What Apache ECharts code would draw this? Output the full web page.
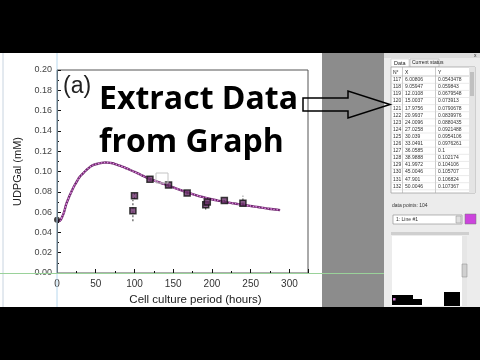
<!DOCTYPE html>
<html><head><meta charset="utf-8">
<script src="https://cdn.jsdelivr.net/npm/echarts@6/dist/echarts.min.js"></script>
<style>html,body{margin:0;padding:0;background:#000;}#c{width:480px;height:360px;}</style>
</head><body><div id="c"></div>
<script>
// ---- data ----
const curveX = [0,1.5,3,4.5,6,9,12,15,18,21,24,27,30,33,36,39,42,45,48,51,54,57,60,63,66,69,72,75,78,81,84,87,90,93,96,99,102,105,108,111,114,117,120,126,132,138,144,150,156,162,168,174,180,186,192,198,204,210,216,222,228,234,240,246,252,258,264,270,276,282,288];
const curveY = [0.0530,0.0517,0.0512,0.0522,0.0543,0.0598,0.0680,0.0739,0.0791,0.0840,0.0880,0.0921,0.0954,0.0976,0.1000,0.1022,0.1041,0.1057,0.1068,0.1074,0.1080,0.1084,0.1087,0.1088,0.1087,0.1085,0.1081,0.1073,0.1066,0.1058,0.1049,0.1040,0.1030,0.1020,0.1010,0.1000,0.0990,0.0979,0.0968,0.0957,0.0946,0.0935,0.0925,0.0909,0.0893,0.0877,0.0860,0.0843,0.0826,0.0810,0.0794,0.0779,0.0765,0.0752,0.0740,0.0729,0.0719,0.0710,0.0701,0.0693,0.0686,0.0679,0.0672,0.0665,0.0658,0.0651,0.0644,0.0637,0.0631,0.0625,0.0619];
const errX = [98,100,120,144,168,192,194,216,240];
const errY = [0.0613,0.0760,0.0924,0.0866,0.0787,0.0672,0.0700,0.0714,0.0688];
const errLow = [0.0510,0.0730,0.0910,0.0850,0.0775,0.0625,0.0685,0.0700,0.0675];
const errHigh = [0.0720,0.0795,0.0938,0.0885,0.0800,0.0715,0.0715,0.0728,0.0760];
const startPoint = [[0,0.0525]];
const xTicks = [0,50,100,150,200,250,300];
const yTicks = [0,0.02,0.04,0.06,0.08,0.10,0.12,0.14,0.16,0.18,0.20];
const rowN = [117,118,119,120,121,122,123,124,125,126,127,128,129,130,131,132];
const rowX = ['6.00806','9.05947','12.0108','15.0037','17.9756','20.9937','24.0096','27.0258','30.039','33.0491','36.0585','38.9888','41.9972','45.0046','47.901','50.0046'];
const rowY = ['0.0543478','0.059843','0.0679548','0.073913','0.0790678','0.0839976','0.0880435','0.0921488','0.0954106','0.0976261','0.1','0.102174','0.104106','0.105707','0.106824','0.107367'];

const chart = echarts.init(document.getElementById('c'), null, {renderer:'canvas'});

const g = [];
// screen regions
g.push({type:'rect', z:-100, shape:{x:0,y:53,width:322,height:254}, style:{fill:'#fff'}});
g.push({type:'rect', z:-100, shape:{x:322,y:53,width:62,height:254}, style:{fill:'#8c8c8c'}});
g.push({type:'rect', z:-100, shape:{x:384,y:53,width:96,height:254}, style:{fill:'#ececec'}});
g.push({type:'line', z:-99, shape:{x1:3,y1:53,x2:3,y2:307}, style:{stroke:'#c8d4e0',lineWidth:1}});
g.push({type:'line', z:50, shape:{x1:57,y1:53,x2:57,y2:307}, style:{stroke:'#b8d8ee',lineWidth:1}});
g.push({type:'line', z:50, shape:{x1:0,y1:273.5,x2:384,y2:273.5}, style:{stroke:'#9ad29a',lineWidth:1}});
g.push({type:'rect', z:40, shape:{x:156,y:173,width:12,height:10}, style:{fill:'none',stroke:'#c4c4c4',lineWidth:1}});
// overlay text
g.push({type:'text', z:100, style:{x:63,y:87,text:'(a)',font:'23px "Liberation Sans", Arial, sans-serif',fill:'#222',textVerticalAlign:'middle'}});
g.push({type:'text', z:100, style:{x:99,y:100,text:'Extract Data',font:'bold 32px "Open Sans", sans-serif',fill:'#000',textVerticalAlign:'middle'}});
g.push({type:'text', z:100, style:{x:99,y:143,text:'from Graph',font:'bold 32px "Open Sans", sans-serif',fill:'#000',textVerticalAlign:'middle'}});
// arrow
g.push({type:'polygon', z:100, shape:{points:[[303,98],[348,98],[348,91],[390,104.5],[348,118],[348,111],[303,111]]}, style:{fill:'none',stroke:'#000',lineWidth:1.5}});
// panel
g.push({type:'rect', z:-90, shape:{x:384,y:53,width:96,height:5}, style:{fill:'#dcdcdc'}});
g.push({type:'text', z:-80, style:{x:474,y:56,text:'x',font:'5px sans-serif',fill:'#333',textVerticalAlign:'middle'}});
g.push({type:'rect', z:-90, shape:{x:391,y:59,width:18,height:8}, style:{fill:'#fff',stroke:'#bbb',lineWidth:0.5}});
g.push({type:'text', z:-80, style:{x:394,y:63,text:'Data',font:'5.5px "Liberation Sans", sans-serif',fill:'#222',textVerticalAlign:'middle'}});
g.push({type:'rect', z:-90, shape:{x:410,y:59,width:29,height:8}, style:{fill:'#f4f4f4',stroke:'#999',lineWidth:0.5}});
g.push({type:'text', z:-80, style:{x:412,y:63,text:'Current status',font:'5px "Liberation Sans", sans-serif',fill:'#222',textVerticalAlign:'middle'}});
g.push({type:'rect', z:-90, shape:{x:391,y:67,width:84,height:126}, style:{fill:'#fff',stroke:'#999',lineWidth:0.7}});
g.push({type:'rect', z:-89, shape:{x:469,y:67,width:6,height:126}, style:{fill:'#e4e4e4'}});
g.push({type:'rect', z:-88, shape:{x:470,y:72,width:4,height:24}, style:{fill:'#c0c0c0'}});
g.push({type:'line', z:-88, shape:{x1:402.5,y1:67,x2:402.5,y2:193}, style:{stroke:'#aaa',lineWidth:0.6}});
g.push({type:'line', z:-88, shape:{x1:435.5,y1:67,x2:435.5,y2:193}, style:{stroke:'#aaa',lineWidth:0.6}});
g.push({type:'text', z:-80, style:{x:393,y:72.5,text:'N°',font:'5px "Liberation Sans", sans-serif',fill:'#222',textVerticalAlign:'middle'}});
g.push({type:'text', z:-80, style:{x:405,y:72.5,text:'X',font:'5px "Liberation Sans", sans-serif',fill:'#222',textVerticalAlign:'middle'}});
g.push({type:'text', z:-80, style:{x:438,y:72.5,text:'Y',font:'5px "Liberation Sans", sans-serif',fill:'#222',textVerticalAlign:'middle'}});
g.push({type:'line', z:-88, shape:{x1:391,y1:76,x2:469,y2:76}, style:{stroke:'#aaa',lineWidth:0.6}});
for (let i=0;i<rowN.length;i++){
  const yy = 79.8 + i*7.1;
  g.push({type:'line', z:-88, shape:{x1:391,y1:yy+3.5,x2:469,y2:yy+3.5}, style:{stroke:'#d4d4d4',lineWidth:0.5}});
  g.push({type:'text', z:-80, style:{x:393,y:yy,text:String(rowN[i]),font:'5px "Liberation Sans", sans-serif',fill:'#333',textVerticalAlign:'middle'}});
  g.push({type:'text', z:-80, style:{x:405,y:yy,text:rowX[i],font:'5px "Liberation Sans", sans-serif',fill:'#333',textVerticalAlign:'middle'}});
  g.push({type:'text', z:-80, style:{x:438,y:yy,text:rowY[i],font:'5px "Liberation Sans", sans-serif',fill:'#333',textVerticalAlign:'middle'}});
}
g.push({type:'text', z:-80, style:{x:392,y:206,text:'data points: 104',font:'5px "Liberation Sans", sans-serif',fill:'#333',textVerticalAlign:'middle'}});
g.push({type:'rect', z:-90, shape:{x:393,y:215,width:69,height:9}, style:{fill:'#fff',stroke:'#888',lineWidth:0.6}});
g.push({type:'text', z:-80, style:{x:396,y:219.5,text:'1: Line #1',font:'5px "Liberation Sans", sans-serif',fill:'#333',textVerticalAlign:'middle'}});
g.push({type:'rect', z:-89, shape:{x:456,y:216,width:5,height:7}, style:{fill:'#e0e0e0',stroke:'#888',lineWidth:0.5}});
g.push({type:'rect', z:-90, shape:{x:465,y:214,width:11,height:10}, style:{fill:'#cc44dd',stroke:'#777',lineWidth:0.5}});
g.push({type:'rect', z:-90, shape:{x:391,y:232,width:78,height:3}, style:{fill:'#cfcfcf'}});
g.push({type:'rect', z:-90, shape:{x:392,y:236,width:70,height:70}, style:{fill:'#fff'}});
g.push({type:'rect', z:-90, shape:{x:462,y:236,width:5,height:70}, style:{fill:'#e6e6e6'}});
g.push({type:'rect', z:-89, shape:{x:462,y:264,width:5,height:13}, style:{fill:'#d0d0d0',stroke:'#888',lineWidth:0.5}});
g.push({type:'rect', z:-88, shape:{x:392,y:295,width:21,height:10}, style:{fill:'#000'}});
g.push({type:'rect', z:-88, shape:{x:413,y:299,width:9,height:6}, style:{fill:'#000'}});
g.push({type:'rect', z:-88, shape:{x:444,y:292,width:16,height:14}, style:{fill:'#000'}});
g.push({type:'rect', z:-87, shape:{x:393,y:298,width:2.5,height:2.5}, style:{fill:'#d080d0'}});

const font = '"Liberation Sans", Arial, sans-serif';
chart.setOption({
  backgroundColor:'transparent',
  animation:false,
  grid:{left:57, top:70, right:172, bottom:87, show:true, borderColor:'#555', borderWidth:1, backgroundColor:'transparent'},
  xAxis:{type:'value', min:0, max:324, interval:50,
    name:'Cell culture period (hours)', nameLocation:'middle', nameGap:17,
    nameTextStyle:{fontFamily:font, fontSize:11.5, color:'#222', padding:[0,0,0,26]},
    axisLine:{lineStyle:{color:'#111', width:1}},
    axisTick:{inside:true, length:4, lineStyle:{color:'#111'}},
    minorTick:{show:true, splitNumber:2, length:2, lineStyle:{color:'#111'}},
    splitLine:{show:false},
    axisLabel:{fontFamily:font, fontSize:10, color:'#333', margin:6, showMaxLabel:false,
      formatter:v => xTicks.indexOf(v) >= 0 ? String(v) : ''}
  },
  yAxis:{type:'value', min:0, max:0.2, interval:0.02,
    name:'UDPGal (mM)', nameLocation:'middle', nameGap:24, nameRotate:90,
    nameTextStyle:{fontFamily:font, fontSize:11, color:'#222'},
    axisLine:{show:true, lineStyle:{color:'#111', width:1}},
    axisTick:{show:true, inside:true, length:4, lineStyle:{color:'#111'}},
    minorTick:{show:true, splitNumber:2, length:2, lineStyle:{color:'#111'}},
    splitLine:{show:false},
    axisLabel:{fontFamily:font, fontSize:9, color:'#444', margin:5,
      formatter:v => { const t = yTicks.find(k => Math.abs(k-v) < 1e-9); return t === undefined ? '' : t.toFixed(2); }}
  },
  series:[
    {type:'line', data:curveX.map((x,i)=>[x,curveY[i]]), smooth:true, symbol:'none', z:3,
      lineStyle:{color:'#6e2a6e', width:2.4}},
    {type:'line', data:curveX.map((x,i)=>[x,curveY[i]]), smooth:true, symbol:'none', z:4,
      lineStyle:{color:'#e088e0', width:1.3, type:[1.5,1.5]}},
    {type:'custom', z:5, data:errX.map((x,i)=>[x,errLow[i],errHigh[i]]),
      renderItem:(params, api) => {
        const a = api.coord([api.value(0), api.value(1)]);
        const b = api.coord([api.value(0), api.value(2)]);
        return {type:'line', shape:{x1:a[0],y1:a[1],x2:b[0],y2:b[1]}, style:{stroke:'#333', lineWidth:1, lineDash:[2,2]}};
      }},
    {type:'scatter', z:6, data:errX.map((x,i)=>[x,errY[i]]), symbol:'rect', symbolSize:6,
      itemStyle:{color:'#6a306a', borderColor:'#111', borderWidth:1.5}},
    {type:'scatter', z:6, data:startPoint, symbol:'circle', symbolSize:6, itemStyle:{color:'#111'}}
  ],
  graphic:{elements:g}
});
</script></body></html>
